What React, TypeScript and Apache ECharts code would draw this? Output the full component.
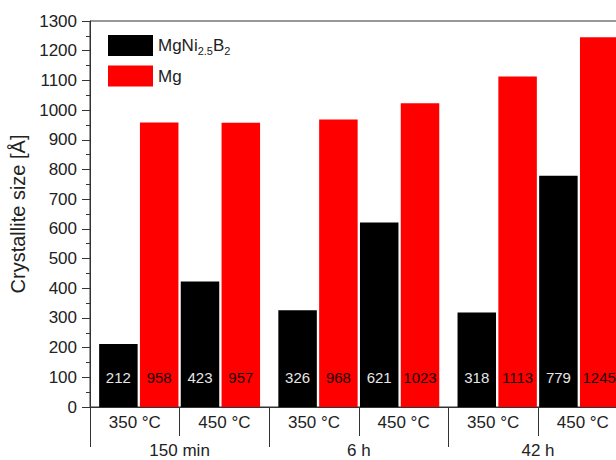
import React, { useEffect, useRef } from "react";
import * as echarts from "echarts";

const timeGroups = ["150 min", "6 h", "42 h"];
const tempLabels = ["350 °C", "450 °C", "350 °C", "450 °C", "350 °C", "450 °C"];
// values per time group
const mgni350 = [212, 326, 318];
const mg350 = [958, 968, 1113];
const mgni450 = [423, 621, 779];
const mg450 = [957, 1023, 1245];
const yMin = 0;
const yMax = 1300;
const yStep = 100;

const FONT = "'Liberation Sans', Arial, sans-serif";
const NAME_MGNI = "MgNi2.5B2";
const NAME_MG = "Mg";

export default function App() {
  const ref = useRef<HTMLDivElement>(null);
  useEffect(() => {
    document.body.style.overflow = "hidden";
    if (!ref.current) return;
    const chart = echarts.init(ref.current, null, { renderer: "svg" });
    const barBase = (name: string, data: number[], color: string, labelColor: string) => ({
      type: "bar",
      name,
      data,
      xAxisIndex: 0,
      barWidth: 38.5,
      barGap: "6%",
      itemStyle: { color },
      label: {
        show: true,
        position: "insideBottom",
        distance: 22,
        color: labelColor,
        fontSize: 15,
        fontFamily: FONT,
      },
    });
    chart.setOption({
      animation: false,
      backgroundColor: "#fff",
      textStyle: { fontFamily: FONT },
      grid: {
        left: 90,
        top: 21,
        width: 537.6,
        height: 386,
        show: true,
        borderColor: "#333",
        borderWidth: 1,
        backgroundColor: "transparent",
      },
      legend: {
        data: [NAME_MGNI, NAME_MG],
        orient: "vertical",
        left: 103,
        top: 30,
        itemWidth: 45,
        itemHeight: 21,
        itemGap: 9,
        icon: "rect",
        selectedMode: false,
        formatter: (n: string) =>
          n === NAME_MGNI ? "{a|MgNi}{s|2.5}{a|B}{s|2}" : "{a|Mg}",
        textStyle: {
          color: "#222",
          fontSize: 17,
          fontFamily: FONT,
          rich: {
            a: { fontSize: 17, color: "#222", fontFamily: FONT, lineHeight: 22 },
            s: { fontSize: 11, color: "#222", fontFamily: FONT, verticalAlign: "bottom", lineHeight: 10 },
          },
        },
      },
      xAxis: [
        {
          type: "category",
          data: timeGroups,
          position: "bottom",
          offset: 29,
          axisLine: { show: true, lineStyle: { color: "#333", width: 1 } },
          axisTick: { show: true, inside: false, length: 40, alignWithLabel: false, lineStyle: { color: "#333" } },
          axisLabel: { color: "#222", fontSize: 17, fontFamily: FONT, margin: 6 },
          splitLine: { show: false },
        },
        {
          type: "category",
          data: tempLabels,
          position: "bottom",
          offset: 0,
          axisLine: { show: true, lineStyle: { color: "#333", width: 1 } },
          axisTick: { show: true, inside: false, length: 29, alignWithLabel: false, lineStyle: { color: "#333" } },
          axisLabel: { color: "#222", fontSize: 17, fontFamily: FONT, margin: 7 },
          splitLine: { show: false },
        },
      ],
      yAxis: {
        type: "value",
        min: yMin,
        max: yMax,
        interval: yStep,
        name: "Crystallite size [Å]",
        nameLocation: "middle",
        nameGap: 57,
        nameTextStyle: { color: "#222", fontSize: 20, fontFamily: FONT },
        axisLine: { show: true, lineStyle: { color: "#333", width: 1 } },
        axisTick: { show: true, inside: false, length: 8, lineStyle: { color: "#333" } },
        minorTick: { show: true, splitNumber: 2, length: 4, lineStyle: { color: "#333" } },
        axisLabel: {
          color: "#222",
          fontSize: 17,
          fontFamily: FONT,
          margin: 13,
          formatter: (v: number) => String(v),
        },
        splitLine: { show: false },
      },
      series: [
        barBase(NAME_MGNI, mgni350, "#000000", "#e6e6e6"),
        barBase(NAME_MG, mg350, "#ff0000", "#1a0000"),
        barBase(NAME_MGNI, mgni450, "#000000", "#e6e6e6"),
        barBase(NAME_MG, mg450, "#ff0000", "#1a0000"),
      ],
    });
    return () => chart.dispose();
  }, []);
  return (
    <div
      ref={ref}
      style={{ position: "fixed", left: 0, top: 0, width: 640, height: 460, background: "#fff" }}
    />
  );
}
